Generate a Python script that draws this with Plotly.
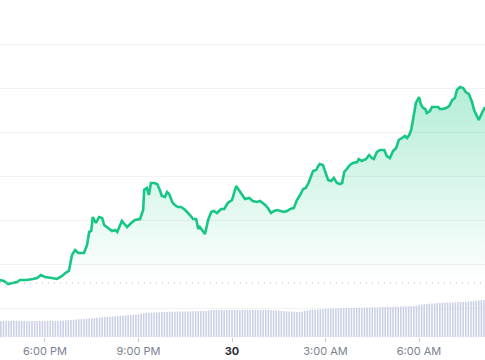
import pandas as pd
import plotly.graph_objects as go

# ---- data ----
base_time = pd.Timestamp("2024-03-29 18:00")

# minutes relative to 6:00 PM on the 29th
price_minutes = [
    -87, -79, -71, -64, -54, -48, -35, -23, -15, -8, 0, 13, 23, 33, 39, 46, 52, 58, 64, 75,
    81, 85, 89, 92, 98, 104, 110, 114, 121, 129, 135, 139, 148, 158, 166, 173, 183, 189, 191, 196,
    200, 204, 210, 216, 221, 225, 231, 235, 239, 245, 250, 256, 262, 270, 279, 285, 291, 295, 298, 302,
    308, 314, 320, 325, 331, 339, 345, 352, 360, 368, 373, 377, 385, 393, 400, 408, 414, 424, 429, 435,
    441, 447, 454, 460, 466, 472, 479, 485, 491, 497, 502, 508, 516, 522, 526, 529, 535, 541, 545, 551,
    556, 562, 568, 572, 576, 581, 587, 593, 601, 604, 610, 618, 624, 629, 633, 639, 645, 653, 658, 664,
    670, 676, 681, 687, 693, 697, 701, 705, 710, 714, 720, 724, 728, 732, 735, 741, 745, 751, 757, 760,
    766, 772, 778, 784, 789, 793, 799, 805, 810, 816, 822, 826, 832, 835, 841, 847,
]
prices = [
    107.0, 106.75, 106.0, 106.25, 106.5, 107.0, 107.0, 107.25, 107.5, 108.25, 107.75, 107.5, 107.25, 108.0, 108.75, 109.25, 113.25, 114.5, 113.75, 113.75,
    115.75, 119.0, 119.25, 122.75, 121.25, 122.75, 122.5, 120.75, 120.0, 119.25, 119.5, 119.0, 121.75, 120.25, 121.25, 122.0, 122.25, 124.5, 129.5, 130.0,
    128.25, 131.25, 131.25, 131.0, 129.5, 128.0, 127.75, 129.0, 128.5, 126.5, 125.75, 125.25, 125.25, 124.5, 123.25, 122.25, 122.25, 119.75, 120.25, 119.5,
    118.5, 122.0, 124.0, 124.25, 123.75, 124.75, 124.75, 126.25, 127.0, 130.5, 129.5, 128.75, 127.25, 127.5, 126.75, 126.5, 126.75, 125.75, 125.0, 123.75,
    124.25, 124.5, 124.25, 124.0, 124.25, 124.75, 125.0, 127.0, 128.25, 129.75, 130.0, 131.5, 134.25, 134.5, 135.5, 136.0, 135.75, 133.75, 132.0, 131.75,
    132.5, 131.25, 131.0, 131.25, 134.0, 134.75, 135.75, 136.25, 136.5, 137.25, 136.75, 137.25, 138.25, 137.5, 137.25, 139.0, 139.5, 139.5, 138.0, 137.5,
    139.25, 140.0, 142.0, 142.5, 143.0, 142.5, 143.25, 144.5, 148.75, 151.25, 152.75, 150.75, 150.0, 149.75, 148.75, 149.25, 150.25, 150.25, 150.25, 149.75,
    149.75, 150.0, 150.5, 152.0, 152.5, 154.5, 155.25, 155.0, 154.0, 153.5, 151.5, 149.5, 147.75, 147.0, 148.75, 150.25,
]
open_price = 106.25

volumes = [
    1.60, 1.60, 1.61, 1.60, 1.60, 1.61, 1.61, 1.60, 1.60, 1.60, 1.61, 1.61, 1.60, 1.60, 1.61, 1.60, 1.60, 1.60, 1.61, 1.61, 1.60, 1.60, 1.61,
    1.62, 1.64, 1.66, 1.68, 1.70,
    1.72, 1.74, 1.76, 1.78, 1.80,
    1.82, 1.84, 1.87, 1.90, 1.92, 1.95,
    1.97, 1.99, 2.01, 2.03, 2.05, 2.07, 2.09, 2.11, 2.13, 2.15, 2.18, 2.20,
    2.22, 2.25, 2.29, 2.33, 2.37,
    2.40, 2.42, 2.43, 2.45, 2.46, 2.48, 2.50,
    2.50, 2.51, 2.51, 2.52, 2.53, 2.53, 2.54, 2.55, 2.55, 2.56, 2.57, 2.57, 2.58, 2.58, 2.59, 2.60, 2.60,
    2.65, 2.68, 2.70, 2.70, 2.70, 2.71, 2.70, 2.70, 2.70, 2.71, 2.70, 2.70, 2.69, 2.70, 2.70, 2.70, 2.71, 2.70, 2.70, 2.70, 2.69, 2.70, 2.70, 2.69,
    2.68, 2.66, 2.64, 2.62, 2.60, 2.58, 2.56, 2.55,
    2.53, 2.52, 2.50, 2.50,
    2.55, 2.60, 2.65, 2.70,
    2.72, 2.73, 2.75, 2.77, 2.78, 2.80,
    2.82, 2.83, 2.84, 2.85, 2.86, 2.87, 2.88, 2.89, 2.90,
    2.90, 2.91, 2.91, 2.92, 2.93, 2.93, 2.94, 2.95, 2.95, 2.96, 2.97, 2.98,
    3.00, 3.01, 3.01, 3.02, 3.03, 3.04, 3.04, 3.05, 3.06, 3.07, 3.07, 3.08, 3.09, 3.10,
    3.18, 3.24, 3.28, 3.30,
    3.32, 3.34, 3.36, 3.38, 3.40, 3.42, 3.43, 3.45,
    3.45, 3.46, 3.47, 3.48, 3.49, 3.50,
    3.52, 3.55, 3.57, 3.60, 3.62, 3.65, 3.67, 3.70,
]
volume_start = "2024-03-29 16:35"

tick_times = ["2024-03-29 18:00", "2024-03-29 21:00", "2024-03-30 00:00",
              "2024-03-30 03:00", "2024-03-30 06:00"]
tick_labels = ["6:00 PM", "9:00 PM", "<b><span style='color:#2b2f36'>30</span></b>",
               "3:00 AM", "6:00 AM"]
price_grid = [100, 111, 122, 133, 144, 155, 166]

# ---- build ----
price_times = base_time + pd.to_timedelta(price_minutes, unit="min")
volume_times = pd.date_range(volume_start, periods=len(volumes), freq="5min")

GREEN = "#16c784"

fig = go.Figure()
fig.add_trace(go.Scatter(
    x=price_times, y=prices, mode="lines",
    line=dict(color=GREEN, width=2.6),
    fill="tozeroy",
    fillgradient=dict(type="vertical",
                      colorscale=[[0, "rgba(22,199,132,0)"], [1, "rgba(22,199,132,0.32)"]],
                      start=open_price, stop=max(prices)),
    hoverinfo="skip", showlegend=False,
))
fig.add_trace(go.Bar(
    x=volume_times, y=volumes, yaxis="y2",
    marker=dict(color="rgba(196,202,226,0.9)", line=dict(width=0)),
    hoverinfo="skip", showlegend=False,
))

fig.add_shape(type="line", xref="paper", x0=0, x1=1, yref="y", y0=open_price, y1=open_price,
              line=dict(color="#b8bcc6", width=1, dash="1px,5px"), layer="above")

fig.update_layout(
    width=485, height=360,
    margin=dict(l=0, r=0, t=0, b=23),
    paper_bgcolor="white", plot_bgcolor="white",
    bargap=0.4,
    font=dict(family="Inter, Noto Sans, sans-serif", size=11, color="#7b8290"),
    xaxis=dict(
        type="date",
        range=["2024-03-29 16:33:24", "2024-03-30 08:07:00"],
        tickvals=tick_times, ticktext=tick_labels,
        showgrid=False, zeroline=False, showline=False,
        ticks="outside", ticklen=4, tickcolor="#c9cdd6", tickwidth=1,
        tickfont=dict(size=11, color="#7b8290"),
    ),
    yaxis=dict(
        range=[92.75, 177], tickvals=price_grid, showticklabels=False,
        showgrid=True, gridcolor="#f1f2f4", gridwidth=1, zeroline=False, showline=False,
    ),
    yaxis2=dict(
        range=[0, 33.7], overlaying="y", showticklabels=False,
        showgrid=False, zeroline=False, showline=False,
    ),
)

fig.write_html("out.html", config={"displayModeBar": False},
               post_script="document.body.style.margin='0px';")
